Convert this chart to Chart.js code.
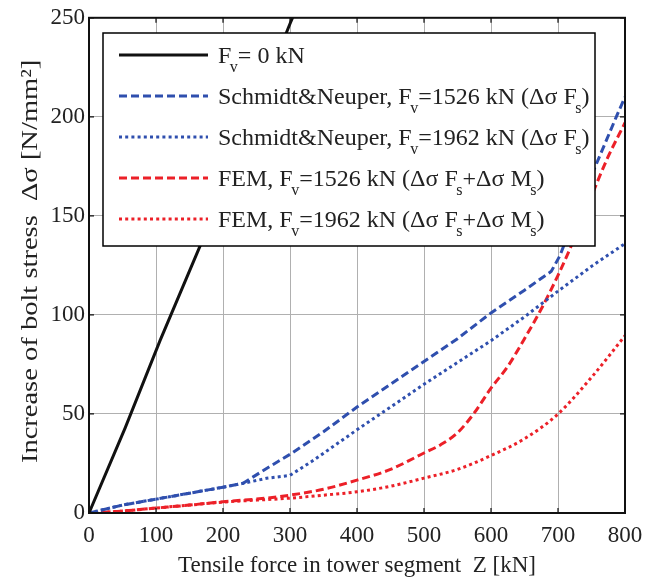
<!DOCTYPE html>
<html><head><meta charset="utf-8">
<script src="https://cdn.jsdelivr.net/npm/chart.js@4.4.1/dist/chart.umd.min.js"></script>
<style>html,body{margin:0;padding:0;background:#fff;}</style>
</head><body>
<canvas id="c" width="659" height="577"></canvas>
<script>
// ---- data ----
const xTickValues = [0, 100, 200, 300, 400, 500, 600, 700, 800];
const yTickValues = [0, 50, 100, 150, 200, 250];

const fv0X = [0, 54, 106, 166, 300, 310];
const fv0Y = [0, 43, 87, 135, 247, 255];

const sn1526X = [0, 50, 100, 150, 200, 230, 265, 300, 350, 400, 450, 500, 550, 600, 650, 690, 703, 720, 752, 787, 800];
const sn1526Y = [0, 4, 7, 10, 13, 15, 22.5, 29.6, 41, 53.5, 65, 76.5, 88, 101, 112.5, 122, 130, 145, 172, 200, 210];

const sn1962X = [0, 50, 100, 150, 200, 230, 265, 300, 335, 400, 450, 500, 550, 600, 650, 700, 752, 800];
const sn1962Y = [0, 4, 7, 10, 13, 15, 17.5, 19, 26.6, 42, 53.5, 65, 76, 87, 99, 112, 125, 136];

const fem1526X = [0, 50, 100, 150, 200, 265, 300, 350, 400, 450, 500, 525, 550, 575, 600, 625, 650, 675, 700, 725, 750, 775, 800];
const fem1526Y = [0, 1, 2.5, 4, 5.7, 7.5, 9, 12, 16.6, 22, 30.3, 34.5, 40.5, 50.5, 63, 74, 88, 103, 120, 139, 160, 180, 197];

const fem1962X = [0, 50, 100, 150, 200, 250, 300, 350, 400, 450, 500, 550, 600, 651, 700, 750, 800];
const fem1962Y = [0, 1, 2.5, 4, 5.5, 6.5, 7.5, 9, 10.7, 13.5, 17.6, 22, 29, 37.7, 50, 68.5, 89.5];

// legend labels: [text, isSubscript]
const legendLabels = [
  [["F", 0], ["v", 1], ["= 0 kN", 0]],
  [["Schmidt&Neuper, F", 0], ["v", 1], ["=1526 kN (\u0394\u03c3 F", 0], ["s", 1], [")", 0]],
  [["Schmidt&Neuper, F", 0], ["v", 1], ["=1962 kN (\u0394\u03c3 F", 0], ["s", 1], [")", 0]],
  [["FEM, F", 0], ["v", 1], ["=1526 kN (\u0394\u03c3 F", 0], ["s", 1], ["+\u0394\u03c3 M", 0], ["s", 1], [")", 0]],
  [["FEM, F", 0], ["v", 1], ["=1962 kN (\u0394\u03c3 F", 0], ["s", 1], ["+\u0394\u03c3 M", 0], ["s", 1], [")", 0]]
];
const xTitle = "Tensile force in tower segment  Z [kN]";
const yTitle = "Increase of bolt stress  \u0394\u03c3 [N/mm\u00b2]";

// ---- styles ----
const BLUE = '#2f4fae';
const RED = '#ec2028';
const TEXT = '#222';
const FONT = '"Liberation Serif", "Times New Roman", serif';
const DASH = [8, 4];
const DOT = [3, 3.2];

const zip = (xs, ys) => xs.map((x, i) => ({x: x, y: ys[i]}));

const datasets = [
  {label: 'a', data: zip(fv0X, fv0Y), borderColor: '#111', borderWidth: 3, borderDash: [], tension: 0},
  {label: 'b', data: zip(sn1526X, sn1526Y), borderColor: BLUE, borderWidth: 3, borderDash: DASH, tension: 0},
  {label: 'c', data: zip(sn1962X, sn1962Y), borderColor: BLUE, borderWidth: 3, borderDash: DOT, tension: 0},
  {label: 'd', data: zip(fem1526X, fem1526Y), borderColor: RED, borderWidth: 3, borderDash: DASH, cubicInterpolationMode: 'monotone'},
  {label: 'e', data: zip(fem1962X, fem1962Y), borderColor: RED, borderWidth: 3, borderDash: DOT, cubicInterpolationMode: 'monotone'}
].map(d => Object.assign({pointRadius: 0, fill: false, borderCapStyle: 'butt'}, d));

const legendBox = {left: 103, top: 33, right: 595, bottom: 246, rowY0: 55, rowStep: 41, lineX0: 119, lineX1: 208, textX: 218};

const framePlugin = {
  id: 'frame',
  afterDraw(chart) {
    const ctx = chart.ctx;
    const a = chart.chartArea;
    ctx.save();
    // y axis title (drawn stretched along its length like the reference)
    ctx.translate(37, (a.top + a.bottom) / 2 - 4);
    ctx.rotate(-Math.PI / 2);
    ctx.scale(1.24, 1);
    ctx.font = '23px ' + FONT;
    ctx.fillStyle = TEXT;
    ctx.textAlign = 'center';
    ctx.textBaseline = 'alphabetic';
    ctx.fillText(yTitle, 0, 0);
    ctx.restore();
  },
  afterDatasetsDraw(chart) {
    const ctx = chart.ctx;
    const a = chart.chartArea;
    const xs = chart.scales.x, ys = chart.scales.y;
    ctx.save();
    // legend
    const L = legendBox;
    ctx.fillStyle = '#fff';
    ctx.fillRect(L.left, L.top, L.right - L.left, L.bottom - L.top);
    ctx.strokeStyle = '#000';
    ctx.lineWidth = 1.5;
    ctx.strokeRect(L.left, L.top, L.right - L.left, L.bottom - L.top);
    legendLabels.forEach((parts, i) => {
      const y = L.rowY0 + i * L.rowStep;
      const ds = chart.data.datasets[i];
      ctx.beginPath();
      ctx.setLineDash(ds.borderDash || []);
      ctx.strokeStyle = ds.borderColor;
      ctx.lineWidth = ds.borderWidth;
      ctx.moveTo(L.lineX0, y);
      ctx.lineTo(L.lineX1, y);
      ctx.stroke();
      ctx.setLineDash([]);
      let x = L.textX;
      ctx.fillStyle = TEXT;
      ctx.textBaseline = 'alphabetic';
      ctx.textAlign = 'left';
      parts.forEach(p => {
        if (p[1]) {
          ctx.font = '16px ' + FONT;
          ctx.fillText(p[0], x - 1.5, y + 17);
          x += ctx.measureText(p[0]).width - 1.5;
        } else {
          ctx.font = '24px ' + FONT;
          ctx.fillText(p[0], x, y + 8);
          x += ctx.measureText(p[0]).width;
        }
      });
    });
    // frame
    ctx.strokeStyle = '#111';
    ctx.lineWidth = 2;
    ctx.strokeRect(a.left, a.top, a.right - a.left, a.bottom - a.top);
    // inward ticks on all four sides
    ctx.lineWidth = 1.2;
    ctx.beginPath();
    const tl = 5;
    xTickValues.forEach(v => {
      const px = xs.getPixelForValue(v);
      ctx.moveTo(px, a.bottom); ctx.lineTo(px, a.bottom - tl);
      ctx.moveTo(px, a.top); ctx.lineTo(px, a.top + tl);
    });
    yTickValues.forEach(v => {
      const py = ys.getPixelForValue(v);
      ctx.moveTo(a.left, py); ctx.lineTo(a.left + tl, py);
      ctx.moveTo(a.right, py); ctx.lineTo(a.right - tl, py);
    });
    ctx.stroke();
    ctx.restore();
  }
};

new Chart(document.getElementById('c'), {
  type: 'line',
  data: {datasets: datasets},
  options: {
    responsive: false,
    animation: false,
    layout: {padding: {top: 16, right: 34, left: 0, bottom: 0}},
    plugins: {legend: {display: false}, tooltip: {enabled: false}},
    scales: {
      x: {
        type: 'linear', min: 0, max: 800,
        afterBuildTicks: s => { s.ticks = xTickValues.map(v => ({value: v})); },
        afterFit: s => { s.height = 64; },
        grid: {color: '#b0b0b0', lineWidth: 1, drawTicks: false},
        border: {display: false},
        ticks: {color: TEXT, font: {family: FONT, size: 23}, padding: 9, maxRotation: 0, autoSkip: false},
        title: {display: true, text: xTitle, color: TEXT, font: {family: FONT, size: 23, lineHeight: 1}, padding: {top: 0, bottom: 0}}
      },
      y: {
        type: 'linear', min: 0, max: 250,
        afterBuildTicks: s => { s.ticks = yTickValues.map(v => ({value: v})); },
        afterFit: s => { s.width = 89; },
        grid: {color: '#b0b0b0', lineWidth: 1, drawTicks: false},
        border: {display: false},
        ticks: {color: TEXT, font: {family: FONT, size: 23}, padding: 4, autoSkip: false},
        title: {display: false}
      }
    }
  },
  plugins: [framePlugin]
});
</script>
</body></html>
